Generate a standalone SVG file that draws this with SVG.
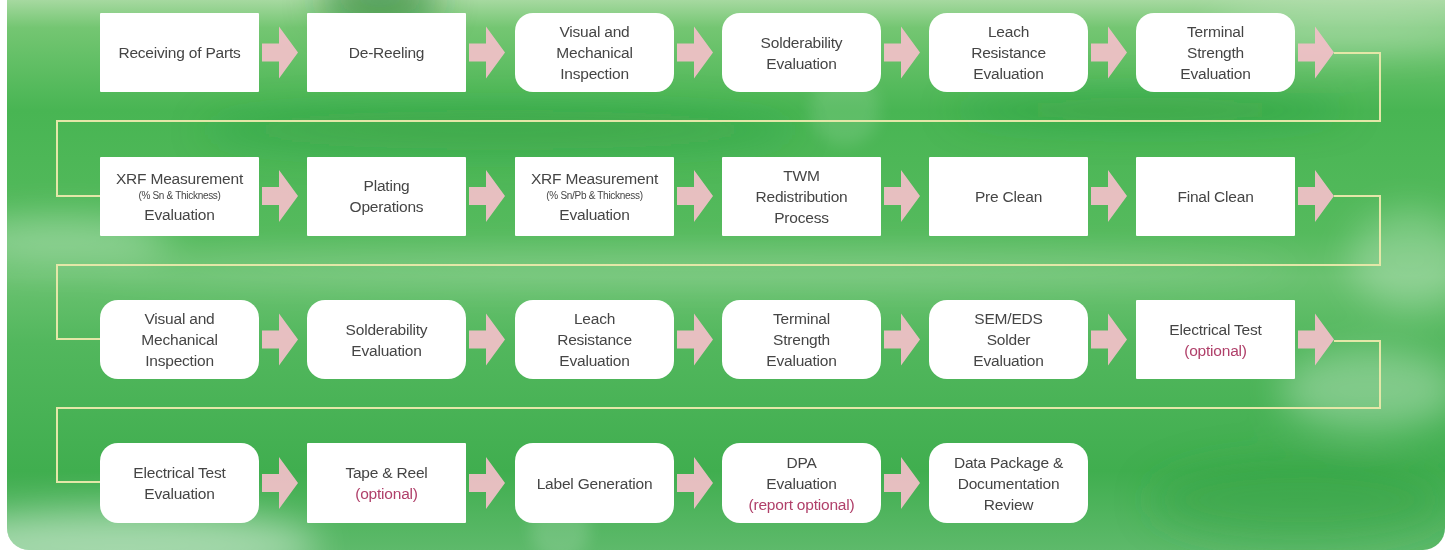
<svg xmlns="http://www.w3.org/2000/svg" width="1449" height="554" viewBox="0 0 1449 554">
<defs>
<linearGradient id="bg" x1="0" y1="0" x2="0" y2="1">
<stop offset="0" stop-color="#a6d9a0"/>
<stop offset="0.05" stop-color="#74c672"/>
<stop offset="0.2" stop-color="#48b553"/>
<stop offset="0.42" stop-color="#55ba5d"/>
<stop offset="0.5" stop-color="#6ac270"/>
<stop offset="0.62" stop-color="#52b75d"/>
<stop offset="0.85" stop-color="#40ae4f"/>
<stop offset="1" stop-color="#5fba6c"/>
</linearGradient>
<filter id="blur" x="-50%" y="-50%" width="200%" height="200%"><feGaussianBlur stdDeviation="18"/></filter>
<filter id="blur2" x="-50%" y="-50%" width="200%" height="200%"><feGaussianBlur stdDeviation="8"/></filter>
<clipPath id="frame"><rect x="7" y="-30" width="1438" height="580" rx="22"/></clipPath>
<path id="arr" d="M3,-9 H20 V-26 L39,0 L20,26 V9 H3 Z"/>
<style>
.sq{fill:#ffffff;}
.t{font-family:"Liberation Sans",Arial,sans-serif;font-size:15.5px;fill:#454545;text-anchor:middle;letter-spacing:-0.2px;}
.s{font-family:"Liberation Sans",Arial,sans-serif;font-size:10px;fill:#454545;text-anchor:middle;letter-spacing:-0.3px;}
.o{fill:#b0406a;}
.a{fill:#f2c0c8;opacity:0.93;}
.c{fill:none;stroke:#e4e7a8;stroke-width:2;}
</style>
</defs>
<rect width="1449" height="554" fill="#ffffff"/>
<g clip-path="url(#frame)">
<rect x="0" y="0" width="1449" height="554" fill="url(#bg)"/>
<g filter="url(#blur)">
<ellipse cx="380" cy="0" rx="60" ry="30" fill="#1e7a2e" opacity="0.6"/>
<ellipse cx="60" cy="240" rx="110" ry="22" fill="#ffffff" opacity="0.35"/>
<ellipse cx="1350" cy="30" rx="140" ry="22" fill="#ffffff" opacity="0.3"/>
<ellipse cx="1410" cy="260" rx="60" ry="50" fill="#ffffff" opacity="0.25"/>
<ellipse cx="1370" cy="390" rx="90" ry="40" fill="#ffffff" opacity="0.3"/>
<ellipse cx="700" cy="268" rx="600" ry="14" fill="#ffffff" opacity="0.2"/>
<ellipse cx="120" cy="545" rx="200" ry="35" fill="#ffffff" opacity="0.45"/>
<ellipse cx="1150" cy="110" rx="200" ry="15" fill="#1f8c35" opacity="0.35"/>
<ellipse cx="500" cy="130" rx="300" ry="20" fill="#1f8c35" opacity="0.3"/>
<ellipse cx="1300" cy="500" rx="150" ry="40" fill="#2f9e40" opacity="0.4"/>
</g>
<circle cx="845" cy="110" r="35" fill="#ffffff" opacity="0.12" filter="url(#blur2)"/>
<circle cx="560" cy="530" r="30" fill="#ffffff" opacity="0.15" filter="url(#blur2)"/>
</g>

<g id="connectors">
<polyline class="c" points="1334,53 1380,53 1380,121 57,121 57,196 100,196"/>
<polyline class="c" points="1334,196 1380,196 1380,265 57,265 57,339 100,339"/>
<polyline class="c" points="1334,341 1380,341 1380,408 57,408 57,482 100,482"/>
<g id="arrows">
<use href="#arr" class="a" x="259" y="52.5"/>
<use href="#arr" class="a" x="466" y="52.5"/>
<use href="#arr" class="a" x="674" y="52.5"/>
<use href="#arr" class="a" x="881" y="52.5"/>
<use href="#arr" class="a" x="1088" y="52.5"/>
<use href="#arr" class="a" x="1295" y="52.5"/>
<use href="#arr" class="a" x="259" y="196"/>
<use href="#arr" class="a" x="466" y="196"/>
<use href="#arr" class="a" x="674" y="196"/>
<use href="#arr" class="a" x="881" y="196"/>
<use href="#arr" class="a" x="1088" y="196"/>
<use href="#arr" class="a" x="1295" y="196"/>
<use href="#arr" class="a" x="259" y="339.5"/>
<use href="#arr" class="a" x="466" y="339.5"/>
<use href="#arr" class="a" x="674" y="339.5"/>
<use href="#arr" class="a" x="881" y="339.5"/>
<use href="#arr" class="a" x="1088" y="339.5"/>
<use href="#arr" class="a" x="1295" y="339.5"/>
<use href="#arr" class="a" x="259" y="483"/>
<use href="#arr" class="a" x="466" y="483"/>
<use href="#arr" class="a" x="674" y="483"/>
<use href="#arr" class="a" x="881" y="483"/>
</g>
</g>

<!-- Row 1 -->
<g id="n1"><rect class="sq" x="100" y="13" width="159" height="79" rx="1"/><text class="t" x="179.5" y="58">Receiving of Parts</text></g>
<g id="n2"><rect class="sq" x="307" y="13" width="159" height="79" rx="1"/><text class="t" x="386.5" y="58">De-Reeling</text></g>
<g id="n3"><rect class="sq" x="515" y="13" width="159" height="79" rx="18"/><text class="t" x="594.5" y="37">Visual and</text><text class="t" x="594.5" y="58">Mechanical</text><text class="t" x="594.5" y="79">Inspection</text></g>
<g id="n4"><rect class="sq" x="722" y="13" width="159" height="79" rx="18"/><text class="t" x="801.5" y="47.5">Solderability</text><text class="t" x="801.5" y="68.5">Evaluation</text></g>
<g id="n5"><rect class="sq" x="929" y="13" width="159" height="79" rx="18"/><text class="t" x="1008.5" y="37">Leach</text><text class="t" x="1008.5" y="58">Resistance</text><text class="t" x="1008.5" y="79">Evaluation</text></g>
<g id="n6"><rect class="sq" x="1136" y="13" width="159" height="79" rx="18"/><text class="t" x="1215.5" y="37">Terminal</text><text class="t" x="1215.5" y="58">Strength</text><text class="t" x="1215.5" y="79">Evaluation</text></g>

<!-- Row 2 -->
<g id="n7"><rect class="sq" x="100" y="157" width="159" height="79" rx="1"/><text class="t" x="179.5" y="183.5">XRF Measurement</text><text class="s" x="179.5" y="198.5">(% Sn &amp; Thickness)</text><text class="t" x="179.5" y="219.5">Evaluation</text></g>
<g id="n8"><rect class="sq" x="307" y="157" width="159" height="79" rx="1"/><text class="t" x="386.5" y="190.5">Plating</text><text class="t" x="386.5" y="211.5">Operations</text></g>
<g id="n9"><rect class="sq" x="515" y="157" width="159" height="79" rx="1"/><text class="t" x="594.5" y="183.5">XRF Measurement</text><text class="s" x="594.5" y="198.5">(% Sn/Pb &amp; Thickness)</text><text class="t" x="594.5" y="219.5">Evaluation</text></g>
<g id="n10"><rect class="sq" x="722" y="157" width="159" height="79" rx="1"/><text class="t" x="801.5" y="180.5">TWM</text><text class="t" x="801.5" y="201.5">Redistribution</text><text class="t" x="801.5" y="222.5">Process</text></g>
<g id="n11"><rect class="sq" x="929" y="157" width="159" height="79" rx="1"/><text class="t" x="1008.5" y="201.5">Pre Clean</text></g>
<g id="n12"><rect class="sq" x="1136" y="157" width="159" height="79" rx="1"/><text class="t" x="1215.5" y="201.5">Final Clean</text></g>

<!-- Row 3 -->
<g id="n13"><rect class="sq" x="100" y="300" width="159" height="79" rx="18"/><text class="t" x="179.5" y="324">Visual and</text><text class="t" x="179.5" y="345">Mechanical</text><text class="t" x="179.5" y="366">Inspection</text></g>
<g id="n14"><rect class="sq" x="307" y="300" width="159" height="79" rx="18"/><text class="t" x="386.5" y="334.5">Solderability</text><text class="t" x="386.5" y="355.5">Evaluation</text></g>
<g id="n15"><rect class="sq" x="515" y="300" width="159" height="79" rx="18"/><text class="t" x="594.5" y="324">Leach</text><text class="t" x="594.5" y="345">Resistance</text><text class="t" x="594.5" y="366">Evaluation</text></g>
<g id="n16"><rect class="sq" x="722" y="300" width="159" height="79" rx="18"/><text class="t" x="801.5" y="324">Terminal</text><text class="t" x="801.5" y="345">Strength</text><text class="t" x="801.5" y="366">Evaluation</text></g>
<g id="n17"><rect class="sq" x="929" y="300" width="159" height="79" rx="18"/><text class="t" x="1008.5" y="324">SEM/EDS</text><text class="t" x="1008.5" y="345">Solder</text><text class="t" x="1008.5" y="366">Evaluation</text></g>
<g id="n18"><rect class="sq" x="1136" y="300" width="159" height="79" rx="1"/><text class="t" x="1215.5" y="334.5">Electrical Test</text><text class="t o" x="1215.5" y="355.5">(optional)</text></g>

<!-- Row 4 -->
<g id="n19"><rect class="sq" x="100" y="443" width="159" height="80" rx="18"/><text class="t" x="179.5" y="478">Electrical Test</text><text class="t" x="179.5" y="499">Evaluation</text></g>
<g id="n20"><rect class="sq" x="307" y="443" width="159" height="80" rx="1"/><text class="t" x="386.5" y="478">Tape &amp; Reel</text><text class="t o" x="386.5" y="499">(optional)</text></g>
<g id="n21"><rect class="sq" x="515" y="443" width="159" height="80" rx="18"/><text class="t" x="594.5" y="488.5">Label Generation</text></g>
<g id="n22"><rect class="sq" x="722" y="443" width="159" height="80" rx="18"/><text class="t" x="801.5" y="467.5">DPA</text><text class="t" x="801.5" y="488.5">Evaluation</text><text class="t o" x="801.5" y="509.5">(report optional)</text></g>
<g id="n23"><rect class="sq" x="929" y="443" width="159" height="80" rx="18"/><text class="t" x="1008.5" y="467.5">Data Package &amp;</text><text class="t" x="1008.5" y="488.5">Documentation</text><text class="t" x="1008.5" y="509.5">Review</text></g>
</svg>
